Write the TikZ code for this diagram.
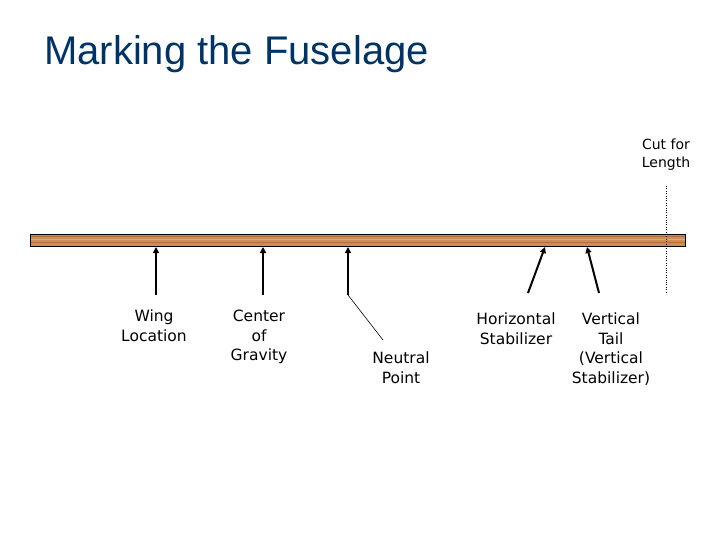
\documentclass[tikz,border=0pt]{standalone}
\usepackage{fontspec}
\setmainfont{Liberation Sans}
\newfontfamily\etiqfont{DejaVu Sans}
\usetikzlibrary{arrows.meta}
\definecolor{titulo}{RGB}{0,51,102}
\definecolor{madera}{RGB}{204,142,84}
\definecolor{maderaclara}{RGB}{222,170,114}
\definecolor{maderaoscura}{RGB}{176,112,60}
\begin{document}
\begin{tikzpicture}[x=1pt,y=-1pt,
    etiqueta/.style={align=center,inner sep=0pt,anchor=north,
      font=\etiqfont\fontsize{15.5}{19.5}\selectfont},
    flecha/.style={line width=2pt,-{Triangle[length=6pt,width=6pt]}}]
    \useasboundingbox (0,0) rectangle (720,540);
    % Titulo
    \node[anchor=base west,inner sep=0pt,text=titulo,
      font=\fontsize{40}{48}\selectfont] (titulo) at (44,65) {Marking the Fuselage};
    % Fuselaje (madera)
    \fill[madera] (30,234) rectangle (685,246);
    \draw[maderaoscura,line width=0.5pt] (30,236.4) -- (685,236.4);
    \draw[maderaclara,line width=1pt] (30,239.8) -- (685,239.8);
    \draw[maderaoscura,line width=0.4pt] (30,242.6) -- (685,242.6);
    \draw[line width=0.8pt] (30,234) rectangle (685,246);
    % Corte
    \coordinate (corte arriba) at (666,186);
    \coordinate (corte abajo) at (666,294);
    \draw[line width=0.8pt,dash pattern=on 1pt off 1.4pt] (corte arriba) -- (corte abajo);
    \node[etiqueta,font=\etiqfont\fontsize{14}{17.5}\selectfont] (corte) at (666,139) {Cut for\\Length};
    % Puntos sobre el fuselaje
    \coordinate (ala) at (156,247);
    \coordinate (cg) at (263,247);
    \coordinate (pn) at (348,247);
    \coordinate (eh) at (545,247);
    \coordinate (ev) at (587,247);
    % Flechas
    \coordinate (ala pie) at (156,295);
    \coordinate (cg pie) at (263,295);
    \coordinate (pn pie) at (348,295);
    \coordinate (eh pie) at (528,293);
    \coordinate (ev pie) at (599,293);
    \draw[flecha] (ala pie) -- (ala);
    \draw[flecha] (cg pie) -- (cg);
    \draw[flecha] (pn pie) -- (pn);
    \draw[flecha] (eh pie) -- (eh);
    \draw[flecha] (ev pie) -- (ev);
    \coordinate (pn linea) at (383,340);
    \draw[line width=0.6pt] (pn pie) -- (pn linea);
    % Etiquetas
    \node[etiqueta] (ala texto) at (154,310) {Wing\\Location};
    \node[etiqueta] (cg texto) at (259,310) {Center\\of\\Gravity};
    \node[etiqueta] (pn texto) at (401,352) {Neutral\\Point};
    \node[etiqueta] (eh texto) at (516,313) {Horizontal\\Stabilizer};
    \node[etiqueta] (ev texto) at (611,313) {Vertical\\Tail\\(Vertical\\Stabilizer)};
\end{tikzpicture}
\end{document}
